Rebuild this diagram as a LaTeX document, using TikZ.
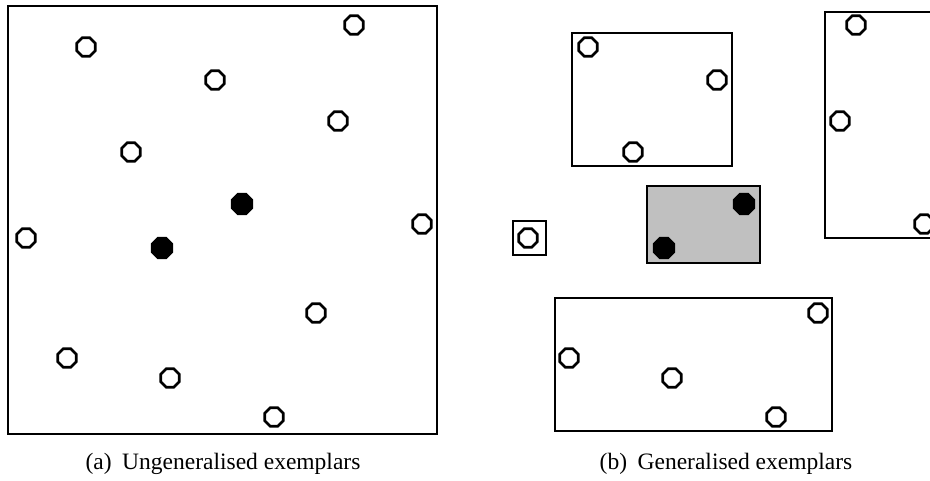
\documentclass[tikz,border=0pt]{standalone}
\usepackage{fontspec}
\setmainfont{Liberation Serif}
\usetikzlibrary{shapes.geometric}
\definecolor{boxgray}{RGB}{192,192,192}
\tikzset{
  ex/.style={regular polygon, regular polygon sides=8, minimum size=20pt, inner sep=0pt, draw=black, line width=2.7pt, fill=white},
  exf/.style={ex, fill=black, minimum size=21pt},
  frame/.style={draw=black, line width=1.4pt},
  captext/.style={font=\fontsize{23.5}{27}\selectfont, inner sep=0pt}
}
\begin{document}
\begin{tikzpicture}[x=1pt,y=-1pt]
\useasboundingbox (0,0) rectangle (930,480);
% left panel
\draw[frame] (8,6) rectangle (437,434);
\node[ex] (a1) at (354,25) {};
\node[ex] (a2) at (86,47) {};
\node[ex] (a3) at (215,80) {};
\node[ex] (a4) at (338,121) {};
\node[ex] (a5) at (131,152) {};
\node[exf] (a6) at (242,204) {};
\node[ex] (a7) at (422,224) {};
\node[ex] (a8) at (26,238) {};
\node[exf] (a9) at (162,248) {};
\node[ex] (a10) at (316,313) {};
\node[ex] (a11) at (67,358) {};
\node[ex] (a12) at (170,378) {};
\node[ex] (a13) at (274,417) {};
\node[captext] (capa) at (223,464) {(a)\hspace{0.45em}Ungeneralised exemplars};
% right panel boxes
\draw[frame] (572,33) rectangle (732,166);
\draw[frame] (825,12) rectangle (945,238);
\draw[frame] (513,221) rectangle (546,255);
\draw[frame, fill=boxgray] (647,186) rectangle (760,263);
\draw[frame] (555,298) rectangle (832,431);
% right panel exemplars
\node[ex] (b1) at (856,25) {};
\node[ex] (b2) at (588,47) {};
\node[ex] (b3) at (717,80) {};
\node[ex] (b4) at (840,121) {};
\node[ex] (b5) at (633,152) {};
\node[exf] (b6) at (744,204) {};
\node[ex] (b7) at (924,224) {};
\node[ex] (b8) at (528,238) {};
\node[exf] (b9) at (664,248) {};
\node[ex] (b10) at (818,313) {};
\node[ex] (b11) at (569,358) {};
\node[ex] (b12) at (672,378) {};
\node[ex] (b13) at (776,417) {};
\node[captext] (capb) at (726,464) {(b)\hspace{0.45em}Generalised exemplars};
\end{tikzpicture}
\end{document}
